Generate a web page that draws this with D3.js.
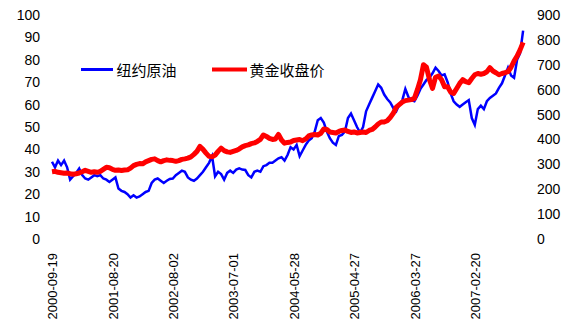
<!DOCTYPE html>
<html>
<head>
<meta charset="utf-8">
<script src="https://cdn.jsdelivr.net/npm/d3@7"></script>
<style>
  html, body { margin: 0; padding: 0; background: #fff; }
  svg { display: block; }
  .tick text { font-family: "Liberation Sans", Arial, sans-serif; fill: #000; }
</style>
</head>
<body>
<svg id="chart" width="581" height="333"></svg>
<script>
// ---- data (one sample every ~15 trading days; a date label every 20 samples) ----
const dateLabels = ["2000-09-19","2001-08-20","2002-08-02","2003-07-01","2004-05-28","2005-04-27","2006-03-27","2007-02-20"];
const leftTicks = [0,10,20,30,40,50,60,70,80,90,100];
const rightTicks = [0,100,200,300,400,500,600,700,800,900];
const seriesNames = ["纽约原油","黄金收盘价"];

// NYMEX crude oil (left axis)
const oil = [
  34.5,32,35,33,35,32,26.5,28,29.5,31.5,
  28.5,27,26.5,27.5,28.5,28,28.5,27,26.5,25.5,
  26.5,27.5,22.5,21.5,21,20,18.5,19.5,18.5,19,
  20,21,21.5,25,26.5,27,26,25,26,26.8,
  27,28.5,29.5,30.5,30,27.5,26.5,26,27,28.5,
  30,32,34,37,28,30,29,26.5,29.5,30.5,
  29.5,31,31.5,31,30.8,28.5,27.5,30,30.5,30,
  32.5,33,34,34,35,36,36.5,35,37.5,41,
  40,42,37,39.5,42,44,45,48,53,54,
  52,48,45,43,42,46,46.5,48,54,56,
  53,50,47.5,50,57,60,63,66,69,67.5,
  64.5,62.5,61,58.5,57,60,62,67,63.5,62,
  61.5,64,67,69,71,72,74,76.5,75,73,
  73.5,70,65,61.5,60,59,60,61,62,54,
  51,58,59.5,58,61.5,63,64,65,67.5,69.5,
  73,76.5,73,72,80,83,93
];

// Gold close (right axis)
const gold = [
  270,272,268,266,264,265,262,260,262,265,
  270,276,272,268,270,268,272,280,288,286,
  280,276,277,275,277,278,285,295,300,303,
  302,310,315,320,322,315,310,315,318,316,
  315,312,315,320,322,325,330,340,352,372,
  360,345,332,330,337,352,365,355,350,348,
  352,356,362,370,375,378,383,386,392,400,
  418,412,404,400,402,420,398,385,388,390,
  396,398,400,395,402,414,418,420,418,425,
  442,440,430,428,426,432,436,438,432,428,
  430,426,428,430,428,436,440,450,462,470,
  470,475,488,505,530,540,550,556,558,560,
  565,600,640,700,690,640,605,650,655,640,
  612,612,590,585,605,625,640,632,628,645,
  660,665,662,665,672,688,675,668,660,665,
  668,672,690,715,735,760,790
];

// ---- chart ----
const svg = d3.select("#chart");
const n = oil.length;

const x = d3.scaleLinear().domain([0, 140]).range([52, 474.8]);
const yL = d3.scaleLinear().domain([0, 100]).range([239, 15]);
const yR = d3.scaleLinear().domain([0, 900]).range([239, 15]);

// left axis
const gl = svg.append("g").attr("transform", "translate(43,0)")
  .call(d3.axisLeft(yL).tickValues(leftTicks).tickSize(0).tickPadding(3));
gl.select(".domain").remove();
gl.selectAll("text").style("font-size", "14px");

// right axis
const gr = svg.append("g").attr("transform", "translate(534,0)")
  .call(d3.axisRight(yR).tickValues(rightTicks).tickSize(0).tickPadding(3));
gr.select(".domain").remove();
gr.selectAll("text").style("font-size", "14px");

// bottom category axis
const gb = svg.append("g").attr("transform", "translate(0,250)")
  .call(d3.axisBottom(x).tickValues(dateLabels.map((d, i) => i * 20))
    .tickFormat((d, i) => dateLabels[i]).tickSize(0));
gb.select(".domain").remove();
gb.selectAll("text")
  .style("font-size", "13px")
  .attr("transform", "rotate(-90)")
  .attr("x", -3).attr("y", 0).attr("dy", "0.36em")
  .attr("text-anchor", "end");

// lines
const lineOil = d3.line().x((d, i) => x(i)).y(d => yL(d));
const lineGold = d3.line().x((d, i) => x(i)).y(d => yR(d));

svg.append("path").datum(oil)
  .attr("d", lineOil).attr("fill", "none")
  .attr("stroke", "#0000FF").attr("stroke-width", 2.5)
  .attr("stroke-linejoin", "miter");

svg.append("path").datum(gold)
  .attr("d", lineGold).attr("fill", "none")
  .attr("stroke", "#FF0000").attr("stroke-width", 5)
  .attr("stroke-linejoin", "round");

// legend
const legend = [
  { name: seriesNames[0], color: "#0000FF", w: 3, x1: 81, x2: 113, tx: 116.5 },
  { name: seriesNames[1], color: "#FF0000", w: 4, x1: 212, x2: 247, tx: 249.5 }
];
const lg = svg.append("g");
legend.forEach(l => {
  lg.append("line").attr("x1", l.x1).attr("x2", l.x2).attr("y1", 69.5).attr("y2", 69.5)
    .attr("stroke", l.color).attr("stroke-width", l.w);
  lg.append("text").attr("x", l.tx).attr("y", 75.5)
    .style("font-family", "'Noto Sans CJK SC', sans-serif")
    .style("font-size", "15px").attr("fill", "#000")
    .text(l.name);
});
</script>
</body>
</html>
